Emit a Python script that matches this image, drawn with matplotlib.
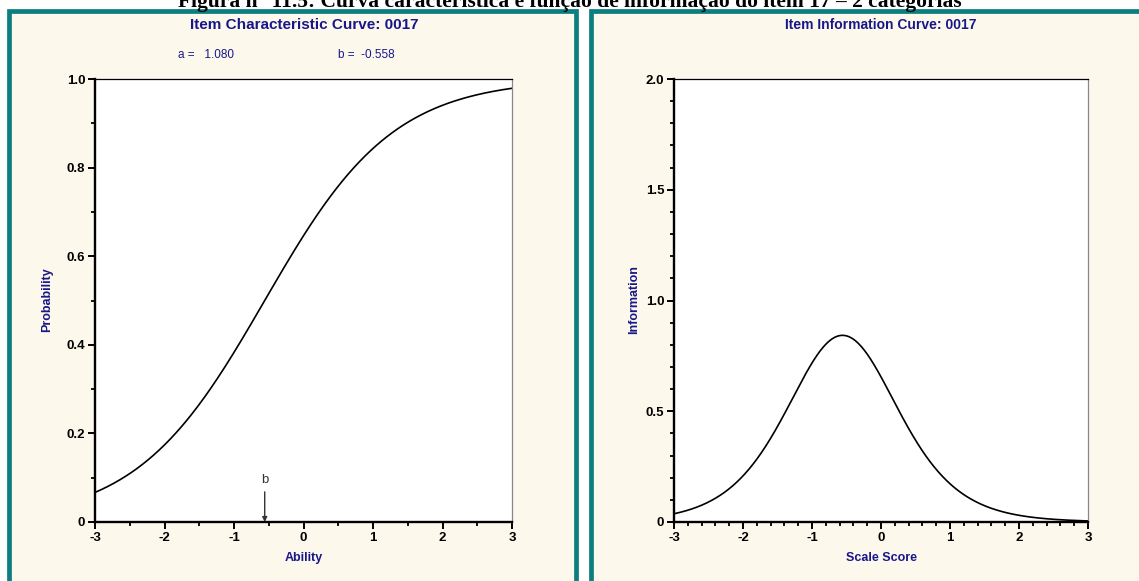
import numpy as np
import matplotlib
matplotlib.use("Agg")
import matplotlib.pyplot as plt
from matplotlib.patches import Rectangle

# Item parameters (2-category item 0017)
item_id = "0017"
a_param = 1.080
b_param = -0.558
D_info = 1.7  # scaling constant used by the information function

theta = np.linspace(-3, 3, 601)
icc = 1.0 / (1.0 + np.exp(-a_param * (theta - b_param)))
p_info = 1.0 / (1.0 + np.exp(-D_info * a_param * (theta - b_param)))
information = (D_info * a_param) ** 2 * p_info * (1.0 - p_info)

x_ticks = [-3, -2, -1, 0, 1, 2, 3]
icc_yticks = [0, 0.2, 0.4, 0.6, 0.8, 1.0]
icc_ylabels = ["0", "0.2", "0.4", "0.6", "0.8", "1.0"]
info_yticks = [0, 0.5, 1.0, 1.5, 2.0]
info_ylabels = ["0", "0.5", "1.0", "1.5", "2.0"]

W, H = 1139, 581
fig = plt.figure(figsize=(W / 100, H / 100), dpi=100)
fig.patch.set_facecolor("white")

TEAL = "#0b7f7f"
CREAM = "#fdf8ec"
NAVY = "#17178a"
FONT = "Liberation Sans"


def fx(px):
    return px / W


def fy(py):
    return 1 - py / H


# Panel frames
for x0, x1 in [(9, 576), (591, 1150)]:
    fig.add_artist(Rectangle((fx(x0), fy(600)), fx(x1 - x0), (600 - 11) / H,
                             transform=fig.transFigure, facecolor=CREAM,
                             edgecolor=TEAL, linewidth=3.4, zorder=0))

# Figure caption (its upper part runs past the top edge)
fig.text(0.5, fy(7), "Figura n° 11.5: Curva característica e função de informação do item 17 – 2 categorias",
         ha="center", va="baseline", fontsize=15.5, fontweight="bold",
         family="Liberation Serif", color="black")


def style_axes(ax, xminor):
    ax.set_facecolor("white")
    ax.set_xlim(-3, 3)
    for side in ["left", "bottom"]:
        ax.spines[side].set_linewidth(1.7)
        ax.spines[side].set_color("black")
    ax.spines["top"].set_linewidth(0.9)
    ax.spines["top"].set_color("black")
    ax.spines["right"].set_linewidth(0.9)
    ax.spines["right"].set_color("#888888")
    ax.set_xticks(x_ticks)
    ax.set_xticklabels([str(t) for t in x_ticks])
    ax.set_xticks(np.arange(-3, 3.0001, xminor), minor=True)
    ax.tick_params(axis="both", which="major", direction="out", length=5, width=1.4,
                   labelsize=9.5, pad=2)
    ax.tick_params(axis="both", which="minor", direction="out", length=3, width=1.3)
    for lab in ax.get_xticklabels() + ax.get_yticklabels():
        lab.set_fontweight("bold")
        lab.set_family(FONT)


# Left panel: item characteristic curve
ax1 = fig.add_axes([fx(95), fy(522), fx(512 - 95), (522 - 79) / H])
ax1.plot(theta, icc, color="black", linewidth=1.2)
ax1.set_ylim(0, 1.0)
ax1.set_yticks(icc_yticks)
ax1.set_yticklabels(icc_ylabels)
ax1.set_yticks(np.arange(0, 1.0001, 0.1), minor=True)
style_axes(ax1, 0.5)
ax1.annotate("", xy=(b_param, 0.0), xytext=(b_param, 0.068),
             arrowprops=dict(arrowstyle="-|>", color="#333333", lw=1.0,
                             mutation_scale=7, shrinkA=0, shrinkB=0))
ax1.text(b_param, 0.082, "b", ha="center", va="bottom", fontsize=9.5,
         family=FONT, color="#333333")

fig.text(fx(304), fy(25), f"Item Characteristic Curve: {item_id}", ha="center", va="center",
         fontsize=11, fontweight="bold", family=FONT, color=NAVY)
fig.text(fx(178), fy(55), f"a =   {a_param:.3f}", ha="left", va="center",
         fontsize=8.5, family=FONT, color=NAVY)
fig.text(fx(338), fy(55), f"b =  {b_param:.3f}", ha="left", va="center",
         fontsize=8.5, family=FONT, color=NAVY)
fig.text(fx(304), fy(558), "Ability", ha="center", va="center",
         fontsize=9, fontweight="bold", family=FONT, color=NAVY)
fig.text(fx(47), fy(300), "Probability", ha="center", va="center", rotation=90,
         fontsize=9, fontweight="bold", family=FONT, color=NAVY)

# Right panel: item information curve
ax2 = fig.add_axes([fx(674), fy(522), fx(1088 - 674), (522 - 79) / H])
ax2.plot(theta, information, color="black", linewidth=1.2)
ax2.set_ylim(0, 2.0)
ax2.set_yticks(info_yticks)
ax2.set_yticklabels(info_ylabels)
ax2.set_yticks(np.arange(0, 2.0001, 0.1), minor=True)
style_axes(ax2, 0.2)

fig.text(fx(881), fy(25), f"Item Information Curve: {item_id}", ha="center", va="center",
         fontsize=10, fontweight="bold", family=FONT, color=NAVY)
fig.text(fx(881), fy(558), "Scale Score", ha="center", va="center",
         fontsize=9, fontweight="bold", family=FONT, color=NAVY)
fig.text(fx(634), fy(300), "Information", ha="center", va="center", rotation=90,
         fontsize=9, fontweight="bold", family=FONT, color=NAVY)

fig.savefig("out.png", dpi=100, facecolor=fig.get_facecolor())
